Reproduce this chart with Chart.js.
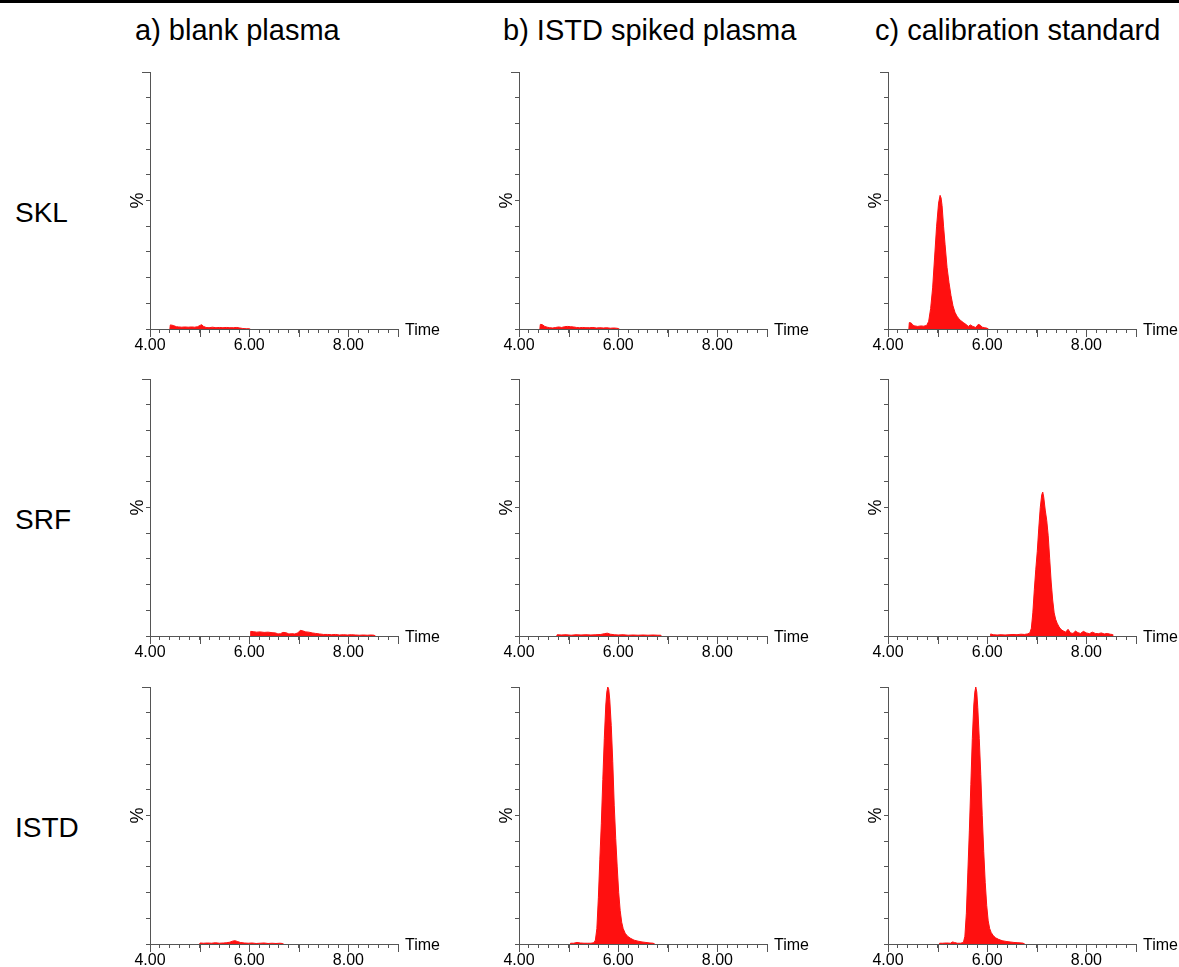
<!DOCTYPE html>
<html lang="en">
<head>
    <meta charset="UTF-8">
    <title>Chromatograms</title>
    <script src="https://cdn.jsdelivr.net/npm/chart.js"></script>
    <style>
        body {
            margin: 0;
            padding: 0;
            background-color: #fff;
            font-family: "Liberation Sans", Arial, sans-serif;
        }
        #page {
            position: relative;
            width: 1179px;
            height: 967px;
            overflow: hidden;
        }
        .topline {
            position: absolute;
            left: 0;
            top: 0;
            width: 1179px;
            height: 3px;
            background-color: #000;
        }
        .coltitle, .rowlabel {
            position: absolute;
            font-size: 28px;
            line-height: 28px;
            color: #000;
            white-space: nowrap;
        }
        .coltitle {
            font-size: 29px;
            line-height: 29px;
        }
        canvas {
            position: absolute;
        }
    </style>
</head>
<body>
<div id="page">
    <div class="topline"></div>
</div>

<script>
    // Text
    const columnTitles = ['a) blank plasma', 'b) ISTD spiked plasma', 'c) calibration standard'];
    const rowLabels = ['SKL', 'SRF', 'ISTD'];

    // SKL trace (time in min, intensity in %)
    const sklBlankTime = [4.40, 4.41, 4.44, 4.48, 4.53, 4.58, 4.64, 4.70, 4.77, 4.84, 4.90, 4.96, 5.01, 5.04, 5.08, 5.13, 5.19, 5.26, 5.33, 5.40, 5.47, 5.54, 5.61, 5.68, 5.75, 5.81, 5.87, 5.94, 6.00, 6.01];
    const sklBlankPct  = [0, 1.6, 1.5, 1.3, 0.9, 0.8, 0.7, 0.8, 0.7, 0.8, 0.7, 0.9, 1.4, 1.7, 1.0, 0.6, 0.5, 0.7, 0.5, 0.6, 0.5, 0.6, 0.5, 0.5, 0.6, 0.4, 0.2, 0.1, 0.1, 0];
    const sklSpikedTime = [4.42, 4.43, 4.47, 4.52, 4.57, 4.62, 4.68, 4.74, 4.80, 4.86, 4.92, 4.98, 5.04, 5.10, 5.16, 5.22, 5.28, 5.35, 5.42, 5.49, 5.56, 5.63, 5.70, 5.77, 5.84, 5.91, 5.97, 6.00, 6.01];
    const sklSpikedPct  = [0, 1.8, 1.7, 1.0, 0.7, 0.5, 0.4, 0.6, 0.8, 0.6, 0.9, 1.0, 0.9, 0.8, 0.6, 0.5, 0.6, 0.5, 0.5, 0.6, 0.4, 0.5, 0.4, 0.5, 0.3, 0.4, 0.3, 0.2, 0];
    const sklCalTime = [4.42, 4.43, 4.47, 4.50, 4.54, 4.60, 4.66, 4.72, 4.78, 4.82, 4.86, 4.90, 4.94, 4.98, 5.02, 5.05, 5.07, 5.09, 5.12, 5.15, 5.19, 5.23, 5.27, 5.31, 5.35, 5.39, 5.43, 5.47, 5.52, 5.57, 5.62, 5.66, 5.71, 5.77, 5.82, 5.86, 5.90, 5.95, 6.00, 6.01];
    const sklCalPct  = [0, 2.5, 2.3, 1.5, 1.2, 1.0, 1.2, 1.1, 1.4, 3.0, 8.0, 16, 28, 40, 49, 52, 51, 48, 40, 33, 24, 18, 13, 9, 6.5, 5, 4, 3.2, 2.5, 1.8, 1.0, 1.6, 1.0, 0.6, 1.8, 1.5, 0.7, 0.5, 0.3, 0];

    // SRF trace
    const srfBlankTime = [6.02, 6.03, 6.08, 6.15, 6.22, 6.30, 6.38, 6.46, 6.53, 6.58, 6.63, 6.68, 6.74, 6.80, 6.86, 6.92, 6.98, 7.03, 7.08, 7.14, 7.20, 7.27, 7.34, 7.42, 7.50, 7.58, 7.66, 7.74, 7.82, 7.90, 7.98, 8.06, 8.14, 8.22, 8.30, 8.38, 8.46, 8.52, 8.53];
    const srfBlankPct  = [0, 1.8, 1.7, 1.5, 1.6, 1.4, 1.5, 1.3, 1.2, 0.8, 0.9, 1.4, 1.3, 0.8, 0.9, 0.8, 1.2, 2.2, 2.0, 1.6, 1.5, 1.2, 1.0, 0.8, 0.6, 0.6, 0.5, 0.6, 0.4, 0.5, 0.4, 0.5, 0.4, 0.3, 0.4, 0.3, 0.4, 0.3, 0];
    const srfSpikedTime = [4.76, 4.77, 4.85, 4.95, 5.05, 5.15, 5.25, 5.35, 5.45, 5.55, 5.65, 5.72, 5.78, 5.84, 5.92, 6.00, 6.10, 6.20, 6.30, 6.40, 6.50, 6.60, 6.70, 6.80, 6.86, 6.87];
    const srfSpikedPct  = [0, 0.5, 0.4, 0.5, 0.3, 0.5, 0.4, 0.5, 0.4, 0.5, 0.6, 0.9, 1.1, 0.7, 0.5, 0.4, 0.5, 0.3, 0.4, 0.3, 0.4, 0.3, 0.4, 0.3, 0.3, 0];
    const srfCalTime = [6.06, 6.07, 6.12, 6.20, 6.28, 6.36, 6.44, 6.52, 6.60, 6.68, 6.75, 6.81, 6.86, 6.89, 6.92, 6.95, 6.98, 7.01, 7.04, 7.07, 7.10, 7.12, 7.14, 7.17, 7.20, 7.23, 7.26, 7.29, 7.32, 7.35, 7.38, 7.41, 7.45, 7.49, 7.53, 7.58, 7.63, 7.68, 7.73, 7.78, 7.83, 7.88, 7.94, 8.00, 8.06, 8.12, 8.18, 8.24, 8.30, 8.36, 8.42, 8.48, 8.52, 8.53];
    const srfCalPct  = [0, 0.8, 0.5, 0.4, 0.5, 0.4, 0.5, 0.6, 0.5, 0.7, 0.6, 0.8, 1.2, 3, 9, 18, 26, 33, 42, 50, 55, 56, 54, 49, 45, 39, 30, 21, 14, 9, 6.5, 5, 3.5, 2.5, 2.0, 1.5, 2.6, 1.2, 1.0, 1.9, 1.3, 1.0, 1.8, 1.2, 0.9, 1.5, 1.0, 0.9, 1.2, 0.8, 1.0, 0.7, 0.6, 0];

    // ISTD trace
    const istdBlankTime = [5.00, 5.01, 5.08, 5.16, 5.24, 5.32, 5.40, 5.48, 5.55, 5.61, 5.66, 5.71, 5.76, 5.82, 5.90, 5.98, 6.06, 6.14, 6.22, 6.30, 6.38, 6.46, 6.54, 6.62, 6.67, 6.68];
    const istdBlankPct  = [0, 0.4, 0.3, 0.4, 0.3, 0.5, 0.3, 0.4, 0.5, 0.7, 1.1, 1.3, 1.0, 0.6, 0.4, 0.3, 0.4, 0.2, 0.3, 0.4, 0.2, 0.3, 0.2, 0.3, 0.2, 0];
    const istdSpikedTime = [5.03, 5.04, 5.10, 5.17, 5.24, 5.31, 5.38, 5.45, 5.51, 5.54, 5.57, 5.60, 5.63, 5.66, 5.69, 5.72, 5.75, 5.77, 5.79, 5.81, 5.83, 5.86, 5.89, 5.92, 5.95, 5.98, 6.01, 6.04, 6.07, 6.10, 6.14, 6.19, 6.25, 6.32, 6.40, 6.48, 6.56, 6.64, 6.71, 6.72];
    const istdSpikedPct  = [0, 0.3, 0.3, 0.6, 0.4, 0.3, 0.3, 0.3, 0.5, 1.5, 6, 18, 33, 47, 64, 80, 93, 98, 100, 99, 95, 85, 71, 54, 41, 30, 20, 13, 8.5, 6, 4.2, 3.0, 2.2, 1.5, 1.1, 0.8, 0.6, 0.4, 0.3, 0];
    const istdCalTime = [5.03, 5.04, 5.10, 5.18, 5.26, 5.30, 5.34, 5.40, 5.46, 5.52, 5.55, 5.58, 5.61, 5.64, 5.67, 5.70, 5.73, 5.75, 5.77, 5.79, 5.81, 5.84, 5.87, 5.90, 5.93, 5.96, 5.99, 6.02, 6.05, 6.08, 6.12, 6.17, 6.23, 6.30, 6.38, 6.46, 6.54, 6.62, 6.70, 6.73, 6.74];
    const istdCalPct  = [0, 0.3, 0.3, 0.4, 0.3, 0.8, 0.6, 0.3, 0.3, 0.6, 3, 12, 28, 44, 62, 80, 93, 98, 100, 98, 92, 80, 66, 50, 36, 24, 15, 9, 6, 4.5, 3.3, 2.4, 1.8, 1.3, 1.0, 0.8, 0.6, 0.5, 0.4, 0.3, 0];

    // Axis ranges
    const timeMin = 4, timeMax = 9, timeStep = 0.2;
    const pctMin = 0, pctMax = 100, pctStep = 10;

    // rows x columns
    const panels = [
        [[sklBlankTime, sklBlankPct], [sklSpikedTime, sklSpikedPct], [sklCalTime, sklCalPct]],
        [[srfBlankTime, srfBlankPct], [srfSpikedTime, srfSpikedPct], [srfCalTime, srfCalPct]],
        [[istdBlankTime, istdBlankPct], [istdSpikedTime, istdSpikedPct], [istdCalTime, istdCalPct]]
    ];

    Chart.defaults.font.family = '"Liberation Sans", Arial, sans-serif';
    Chart.defaults.color = '#000';

    const page = document.getElementById('page');
    const axisColor = '#555';
    const traceColor = '#ff1010';

    // longer ticks at whole minutes, top y tick, and the "Time" label
    const extraMarks = {
        id: 'extraMarks',
        afterDraw(chart) {
            const ctx = chart.ctx;
            const x = chart.scales.x;
            const y = chart.scales.y;
            const area = chart.chartArea;
            ctx.save();
            ctx.strokeStyle = axisColor;
            ctx.lineWidth = 1;
            ctx.beginPath();
            for (let t = timeMin; t <= timeMax; t++) {
                const px = Math.round(x.getPixelForValue(t)) + 0.5;
                ctx.moveTo(px, area.bottom);
                ctx.lineTo(px, area.bottom + 8);
            }
            const py = Math.round(y.getPixelForValue(pctMax)) + 0.5;
            ctx.moveTo(area.left - 8, py);
            ctx.lineTo(area.left, py);
            ctx.stroke();
            ctx.fillStyle = '#000';
            ctx.font = '16px "Liberation Sans", Arial, sans-serif';
            ctx.textAlign = 'left';
            ctx.textBaseline = 'middle';
            ctx.fillText('Time', area.right + 7, area.bottom + 2);
            ctx.restore();
        }
    };

    const colX = [100, 469, 838];
    const rowY = [66, 373, 681];

    columnTitles.forEach((txt, c) => {
        const d = document.createElement('div');
        d.className = 'coltitle';
        d.style.left = [135, 503, 875][c] + 'px';
        d.style.top = '16px';
        d.textContent = txt;
        page.appendChild(d);
    });

    rowLabels.forEach((txt, r) => {
        const d = document.createElement('div');
        d.className = 'rowlabel';
        d.style.left = '15px';
        d.style.top = (rowY[r] + 133) + 'px';
        d.textContent = txt;
        page.appendChild(d);
    });

    panels.forEach((row, r) => {
        row.forEach((trace, c) => {
            const canvas = document.createElement('canvas');
            canvas.width = 348;
            canvas.height = 293;
            canvas.style.left = colX[c] + 'px';
            canvas.style.top = rowY[r] + 'px';
            page.appendChild(canvas);

            const times = trace[0];
            const pct = trace[1];

            new Chart(canvas.getContext('2d'), {
                type: 'line',
                data: {
                    datasets: [{
                        data: times.map((t, i) => ({ x: t, y: pct[i] })),
                        borderColor: traceColor,
                        backgroundColor: traceColor,
                        borderWidth: 1,
                        pointRadius: 0,
                        fill: 'origin',
                        tension: 0
                    }]
                },
                options: {
                    responsive: false,
                    animation: false,
                    layout: { padding: { top: 6, right: 50, bottom: 0, left: 0 } },
                    plugins: {
                        legend: { display: false },
                        tooltip: { enabled: false }
                    },
                    scales: {
                        x: {
                            type: 'linear',
                            min: timeMin,
                            max: timeMax,
                            afterFit: s => { s.height = 30; },
                            border: { display: true, color: axisColor, width: 1 },
                            grid: { drawOnChartArea: false, drawTicks: true, tickLength: 4, tickColor: axisColor },
                            ticks: {
                                stepSize: timeStep,
                                autoSkip: false,
                                maxRotation: 0,
                                padding: 3,
                                font: { size: 16 },
                                color: '#000',
                                callback: v => {
                                    const n = Math.round(v);
                                    return Math.abs(v - n) < 1e-6 && n % 2 === 0 ? n.toFixed(2) : '';
                                }
                            }
                        },
                        y: {
                            min: pctMin,
                            max: pctMax,
                            afterFit: s => { s.width = 50; },
                            border: { display: true, color: axisColor, width: 1 },
                            grid: { drawOnChartArea: false, drawTicks: true, tickLength: 4, tickColor: axisColor },
                            ticks: { stepSize: pctStep, display: false },
                            title: {
                                display: true,
                                text: '%',
                                color: '#000',
                                font: { size: 18 },
                                padding: { top: 27, bottom: 0 }
                            }
                        }
                    }
                },
                plugins: [extraMarks]
            });
        });
    });
</script>
</body>
</html>
